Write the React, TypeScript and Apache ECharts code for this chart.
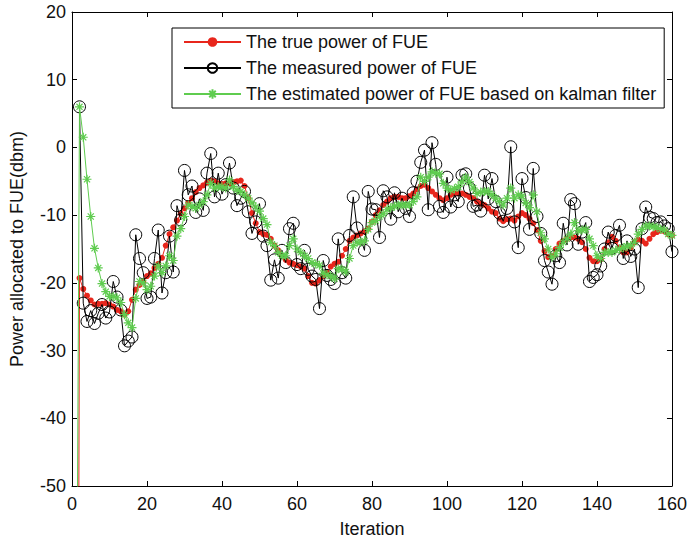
import React, { useEffect, useRef } from "react";
import * as echarts from "echarts";

const iterations: number[] = Array.from({ length: 160 }, (_, i) => i + 1);

const truePower: number[] = [
  -200, -19.3, -20.9, -21.9, -22.6, -23.2, -23.1, -23.1, -23, -23.2,
  -23.5, -24, -24.2, -24.7, -24.2, -22.5, -21, -20.3, -19.8, -19,
  -18.6, -17.8, -17.2, -16.3, -14.5, -12.8, -11.8, -10.8, -9.8, -9,
  -8.2, -7.5, -6.6, -6, -5.6, -5.2, -4.9, -5, -5.3, -5.4,
  -5.3, -5.3, -5.1, -5, -4.9, -5.7, -7.5, -9.7, -11.2, -12.5,
  -12.8, -12.9, -13.5, -14.5, -15.2, -16, -16.6, -17, -17.2, -17.4,
  -17.6, -17.9, -19, -20, -20.1, -19.6, -19, -18.5, -17.6, -17.2,
  -16.9, -16, -15, -13.8, -13.3, -13, -12.7, -12.4, -12, -11,
  -10, -9.3, -8.5, -8, -7.5, -7.3, -7.3, -7.5, -7.5, -7.2,
  -6.8, -6.2, -5.7, -5.5, -6, -6.5, -7, -7.5, -7.8, -7.5,
  -7, -6.8, -6.8, -6.8, -7, -7.3, -7.5, -8, -8.3, -8.5,
  -9, -9.5, -9.7, -10.5, -10.9, -10.6, -10.5, -10.8, -10.2, -9.7,
  -10, -10.5, -11.2, -12.2, -13.8, -15.3, -16.2, -16, -15, -14.2,
  -13.8, -13.5, -13.3, -13.3, -13.5, -14, -15, -16.3, -16.8, -16.8,
  -16.5, -15, -14, -13.2, -13.8, -14.8, -15.5, -15.5, -14.8, -14,
  -13.6, -13.8, -14.2, -13.5, -12.8, -12.5, -12.3, -12.4, -12.8, -13,
];

const measuredPower: (number | null)[] = [
  null, 6, -23, -25.7, -24.1, -26, -24.5, -23.2, -25.2, -24.3,
  -19.8, -22.1, -24, -29.3, -28.6, -28, -12.9, -16.4, -18.5, -22.3,
  -22.1, -16.4, -12.2, -21.5, -18.5, -13.1, -18.4, -8.6, -10.7, -3.4,
  -7, -5.7, -9.6, -7.6, -9.3, -3.8, -0.9, -7.3, -3.8, -6.9,
  -5.5, -2.3, -6, -8.6, -7.5, -6.5, -9.5, -12.7, -11, -8.3,
  -13.1, -14.5, -19.6, -16.6, -19.3, -15.2, -17, -12, -11.2, -17.3,
  -17.9, -15.2, -18, -19, -19.5, -23.8, -16.7, -18.9, -19.5, -20.1,
  -13.5, -18.5, -19.3, -13, -7.3, -11.9, -13.5, -15.2, -6.5, -9.1,
  -9.2, -13.3, -6.4, -7.3, -10.6, -6.7, -9.5, -7.5, -9, -10.2,
  -6.7, -5, -2.2, -0.4, -9.2, 0.7, -2.5, -8.7, -9.6, -4.4,
  -8.8, -7, -8, -4.1, -3.9, -6, -8.7, -8.5, -9.4, -4.1,
  -7.6, -4.6, -8, -9.7, -10.9, -9, 0.1, -11, -14.8, -4.6,
  -7.4, -12.1, -3.1, -10.2, -12.7, -16.7, -18.4, -20.2, -16, -17,
  -11.2, -14.4, -7.7, -8.3, -14.3, -12.5, -11.1, -19.8, -19.2, -18.8,
  -17.5, -15, -12.5, -14.9, -13, -11.5, -16.4, -13.8, -16.1, -15,
  -20.7, -12, -8.8, -10.3, -10.5, -11.1, -11, -11.6, -12, -15.4,
];

const estimatedPower: number[] = [
  -100, 6, 1.5, -4.7, -10.2, -14.9, -17.8, -20.1, -21.3, -22,
  -22, -22.2, -22.9, -24.7, -25.9, -26.6, -22.3, -19.8, -20, -21,
  -20.5, -19, -17.5, -18.5, -17.5, -16, -16.7, -13.1, -12, -10.2,
  -8.5, -8.7, -9, -8.5, -8, -7, -5.3, -6, -5.8, -5.8,
  -6, -4.8, -5.8, -6.3, -6.5, -7, -7.5, -8.2, -8.8, -9.4,
  -10.5, -11.4, -14, -14.5, -15.5, -16, -16, -14.5, -13.5, -15,
  -15.5, -16, -16.4, -17, -17.2, -17.4, -18.6, -18.8, -19, -19.4,
  -17.9, -18, -18.4, -16.4, -14.5, -14, -14, -13.8, -12.1, -11.1,
  -10.8, -10.2, -9.8, -9.2, -8.9, -8.7, -8.5, -8.5, -8.5, -8.5,
  -8, -7.3, -4.4, -5, -4.4, -3.6, -3.8, -3.9, -5.3, -6,
  -6.3, -6.1, -5.8, -5.1, -4.4, -5.1, -6, -6.8, -6.6, -6.5,
  -6.5, -7, -7.5, -8, -8.5, -7.5, -6, -7.5, -7, -7.2,
  -8.2, -8.9, -7, -9.5, -12.6, -13.5, -15, -16.2, -15.7, -14.8,
  -14, -13.5, -12.8, -11.1, -12.3, -12.2, -12.1, -13.5, -14.5, -16,
  -16.4, -15.5, -15.5, -15.5, -15.2, -15, -14.8, -14.6, -14.5, -14,
  -12.8, -12.1, -11.6, -11.6, -11.7, -11.8, -12.1, -12.2, -12.8, -13,
];

const seriesNames = [
  "The true power of FUE",
  "The measured power of FUE",
  "The estimated power of FUE based on kalman filter",
];

const FONT = "Liberation Sans, Arial, sans-serif";
const STAR = "path://M5 0 L5 10 M0 5 L10 5 M1.6 1.6 L8.4 8.4 M1.6 8.4 L8.4 1.6";

function pairs(vals: (number | null)[]) {
  return iterations.map((x, i) => [x, vals[i]]);
}

export default function App() {
  const ref = useRef<HTMLDivElement>(null);
  useEffect(() => {
    if (!ref.current) return;
    const chart = echarts.init(ref.current, undefined, { renderer: "svg" });
    const axisCommon = {
      min: 0,
      max: 160,
      interval: 20,
      axisLine: { show: true, onZero: false, lineStyle: { color: "#000", width: 1 } },
      axisTick: { show: true, inside: true, length: 5, lineStyle: { color: "#000" } },
      splitLine: { show: false },
    };
    const yCommon = {
      min: -50,
      max: 20,
      interval: 10,
      axisLine: { show: true, onZero: false, lineStyle: { color: "#000", width: 1 } },
      axisTick: { show: true, inside: true, length: 5, lineStyle: { color: "#000" } },
      splitLine: { show: false },
    };
    chart.setOption({
      animation: false,
      backgroundColor: "#fff",
      grid: { left: 66, right: 16, top: 12, bottom: 49, containLabel: false },
      legend: {
        orient: "vertical",
        left: 172,
        top: 28,
        padding: [4, 8, 4, 11],
        itemGap: 6,
        itemWidth: 57,
        itemHeight: 12,
        backgroundColor: "#fff",
        borderColor: "#000",
        borderWidth: 1,
        borderRadius: 0,
        textStyle: { fontFamily: FONT, fontSize: 18, color: "#111", lineHeight: 20 },
        data: seriesNames,
      },
      xAxis: [
        {
          type: "value",
          position: "bottom",
          ...axisCommon,
          name: "Iteration",
          nameLocation: "middle",
          nameGap: 34,
          nameTextStyle: { fontFamily: FONT, fontSize: 18, color: "#111" },
          axisLabel: { fontFamily: FONT, fontSize: 18, color: "#111", margin: 9 },
        },
        {
          type: "value",
          position: "top",
          ...axisCommon,
          axisLabel: { show: false },
        },
      ],
      yAxis: [
        {
          type: "value",
          position: "left",
          ...yCommon,
          name: "Power allocated to FUE(dbm)",
          nameLocation: "middle",
          nameGap: 46,
          nameTextStyle: { fontFamily: FONT, fontSize: 18, color: "#111" },
          axisLabel: { fontFamily: FONT, fontSize: 18, color: "#111", margin: 6 },
        },
        {
          type: "value",
          position: "right",
          ...yCommon,
          axisLabel: { show: false },
        },
      ],
      series: [
        {
          name: seriesNames[0],
          type: "line",
          xAxisIndex: 0,
          yAxisIndex: 0,
          data: pairs(truePower),
          symbol: "circle",
          symbolSize: 6,
          showAllSymbol: true,
          clip: true,
          lineStyle: { color: "#e8261c", width: 1 },
          itemStyle: { color: "#e8261c" },
          z: 2,
        },
        {
          name: seriesNames[1],
          type: "line",
          xAxisIndex: 0,
          yAxisIndex: 0,
          data: pairs(measuredPower),
          symbol: "circle",
          symbolSize: 12,
          showAllSymbol: true,
          clip: true,
          lineStyle: { color: "#000", width: 1 },
          itemStyle: { color: "rgba(255,255,255,0)", borderColor: "#000", borderWidth: 1 },
          z: 3,
        },
        {
          name: seriesNames[2],
          type: "line",
          xAxisIndex: 0,
          yAxisIndex: 0,
          data: pairs(estimatedPower),
          symbol: STAR,
          symbolSize: 9,
          showAllSymbol: true,
          clip: true,
          lineStyle: { color: "#5fcc4f", width: 1 },
          itemStyle: { color: "#5fcc4f", borderColor: "#5fcc4f", borderWidth: 1.2 },
          z: 4,
        },
      ],
    });
    return () => chart.dispose();
  }, []);
  return <div ref={ref} style={{ width: 690, height: 543, position: "absolute", left: 0, top: 0 }} />;
}
